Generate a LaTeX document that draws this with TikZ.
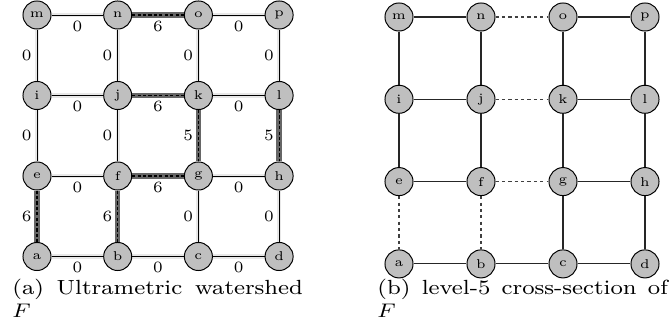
\documentclass[tikz,border=0pt]{standalone}
\pgfdeclarelayer{bg}
\pgfsetlayers{bg,main}
\begin{document}
\begin{tikzpicture}[x=0.4065pt,y=-0.4065pt,
  vtx/.style={circle,draw=black,fill=black!25,line width=0.4pt,minimum size=11.4pt,inner sep=0pt,font=\fontsize{5.2}{6}\selectfont},
  lbl/.style={font=\fontsize{6.4}{7}\selectfont,inner sep=0pt},
  hl/.style={below=2.2pt},
  vl/.style={left=2pt},
  thinedge/.style={preaction={draw,black!9,line width=1.7pt},draw=black,line width=0.4pt},
  cutedge/.style={preaction={draw,black!60,line width=2.2pt},draw=black,line width=0.45pt,dash pattern=on 1.3pt off 0.9pt},
  plainedge/.style={draw=black!85,line width=0.45pt},
  dashedge/.style={draw=black!75,line width=0.45pt,dash pattern=on 1.3pt off 1.3pt},
  capbox/.style={anchor=base west,inner sep=0pt}]
\useasboundingbox (0,0) rectangle (671,332);
% ---------- nodes ----------
\foreach \n/\c/\r in {m/0/0,n/1/0,o/2/0,p/3/0,i/0/1,j/1/1,k/2/1,l/3/1,e/0/2,f/1/2,g/2/2,h/3/2,a/0/3,b/1/3,c/2/3,d/3/3}{
  \node[vtx] (L\n) at ({37+80.7*\c},{15+80.5*\r}) {\n};
  \node[vtx] (R\n) at ({399+82*\c},{17+82.3*\r}) {\n};
}
\begin{pgfonlayer}{bg}
% horizontal, left
\draw[thinedge] (Lm) -- node[lbl,hl]{0} (Ln);
\draw[cutedge]  (Ln) -- node[lbl,hl]{6} (Lo);
\draw[thinedge] (Lo) -- node[lbl,hl]{0} (Lp);
\draw[thinedge] (Li) -- node[lbl,hl]{0} (Lj);
\draw[cutedge]  (Lj) -- node[lbl,hl]{6} (Lk);
\draw[thinedge] (Lk) -- node[lbl,hl]{0} (Ll);
\draw[thinedge] (Le) -- node[lbl,hl]{0} (Lf);
\draw[cutedge]  (Lf) -- node[lbl,hl]{6} (Lg);
\draw[thinedge] (Lg) -- node[lbl,hl]{0} (Lh);
\draw[thinedge] (La) -- node[lbl,hl]{0} (Lb);
\draw[thinedge] (Lb) -- node[lbl,hl]{0} (Lc);
\draw[thinedge] (Lc) -- node[lbl,hl]{0} (Ld);
% vertical, left
\draw[thinedge] (Lm) -- node[lbl,vl]{0} (Li);
\draw[thinedge] (Ln) -- node[lbl,vl]{0} (Lj);
\draw[thinedge] (Lo) -- node[lbl,vl]{0} (Lk);
\draw[thinedge] (Lp) -- node[lbl,vl]{0} (Ll);
\draw[thinedge] (Li) -- node[lbl,vl]{0} (Le);
\draw[thinedge] (Lj) -- node[lbl,vl]{0} (Lf);
\draw[cutedge]  (Lk) -- node[lbl,vl]{5} (Lg);
\draw[cutedge]  (Ll) -- node[lbl,vl]{5} (Lh);
\draw[cutedge]  (Le) -- node[lbl,vl]{6} (La);
\draw[cutedge]  (Lf) -- node[lbl,vl]{6} (Lb);
\draw[thinedge] (Lg) -- node[lbl,vl]{0} (Lc);
\draw[thinedge] (Lh) -- node[lbl,vl]{0} (Ld);
% right grid
\draw[plainedge] (Rm) -- (Rn);
\draw[dashedge]  (Rn) -- (Ro);
\draw[plainedge] (Ro) -- (Rp);
\draw[plainedge] (Ri) -- (Rj);
\draw[dashedge]  (Rj) -- (Rk);
\draw[plainedge] (Rk) -- (Rl);
\draw[plainedge] (Re) -- (Rf);
\draw[dashedge]  (Rf) -- (Rg);
\draw[plainedge] (Rg) -- (Rh);
\draw[plainedge] (Ra) -- (Rb);
\draw[plainedge] (Rb) -- (Rc);
\draw[plainedge] (Rc) -- (Rd);
\draw[plainedge] (Rm) -- (Ri);
\draw[plainedge] (Rn) -- (Rj);
\draw[plainedge] (Ro) -- (Rk);
\draw[plainedge] (Rp) -- (Rl);
\draw[plainedge] (Ri) -- (Re);
\draw[plainedge] (Rj) -- (Rf);
\draw[plainedge] (Rk) -- (Rg);
\draw[plainedge] (Rl) -- (Rh);
\draw[dashedge]  (Re) -- (Ra);
\draw[dashedge]  (Rf) -- (Rb);
\draw[plainedge] (Rg) -- (Rc);
\draw[plainedge] (Rh) -- (Rd);
\end{pgfonlayer}
% captions
\node[capbox] (capa) at (12,295) {\scalebox{1.135}[1]{\parbox[t]{104pt}{\fontsize{8.33}{9.35}\selectfont\hyphenpenalty=10000 \tolerance=9999 (a) Ultrametric watershed $F$}}};
\node[capbox] (capb) at (377,295) {\scalebox{1.135}[1]{\parbox[t]{104pt}{\fontsize{8.33}{9.35}\selectfont\hyphenpenalty=10000 \tolerance=9999 (b) level-5 cross-section of $F$}}};
\end{tikzpicture}
\end{document}
